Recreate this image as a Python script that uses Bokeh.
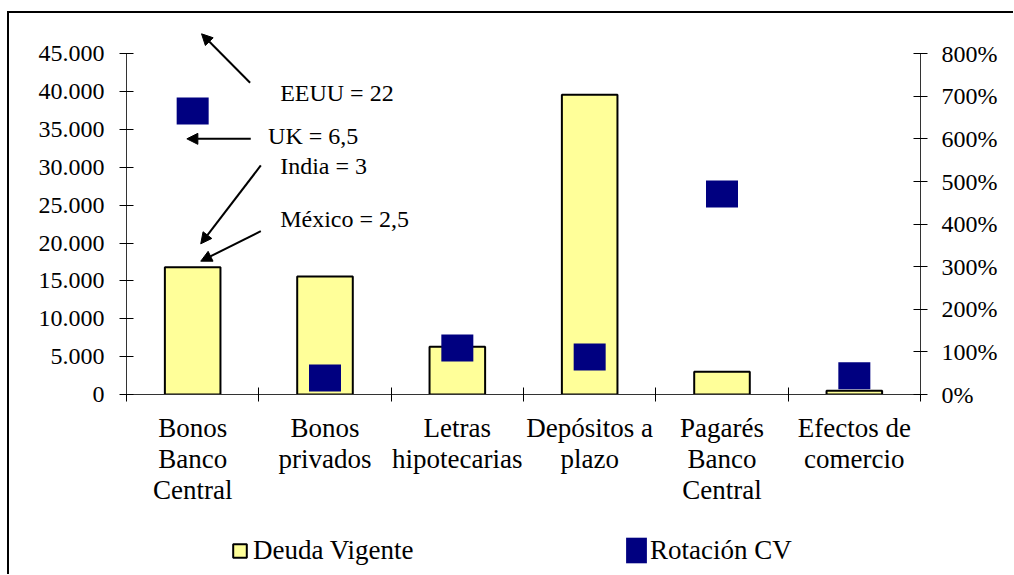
from bokeh.plotting import figure
from bokeh.layouts import column
from bokeh.models import (Range1d, LinearAxis, FixedTicker, Legend, LegendItem,
                          Label, Arrow, NormalHead)
from bokeh.embed import file_html
from bokeh.resources import INLINE

# ---- data ----
categories = ["Bonos\nBanco\nCentral", "Bonos\nprivados", "Letras\nhipotecarias",
              "Depósitos a\nplazo", "Pagarés\nBanco\nCentral", "Efectos de\ncomercio"]
deuda_vigente = [16800, 15600, 6300, 39600, 3000, 500]
rotacion_cv = [666, 39, 109, 88, 471, 44]   # percent
y_ticks = [0, 5000, 10000, 15000, 20000, 25000, 30000, 35000, 40000, 45000]
y_tick_labels = ["0", "5.000", "10.000", "15.000", "20.000", "25.000",
                 "30.000", "35.000", "40.000", "45.000"]
pct_ticks = [0, 100, 200, 300, 400, 500, 600, 700, 800]
pct_tick_labels = ["0%", "100%", "200%", "300%", "400%", "500%", "600%", "700%", "800%"]
notes = ["EEUU = 22", "UK = 6,5", "India = 3", "México = 2,5"]
series_names = ["Deuda Vigente", "Rotación CV"]

FONT = "Liberation Serif"
BAR_FILL, SQ_FILL = "#FFFF99", "#000080"
Y_MAX, PCT_MAX = 45000, 800
Y_TOP = 49400                      # headroom above the axis for the arrow
PCT_TOP = Y_TOP * PCT_MAX / Y_MAX

xs = [i + 0.5 for i in range(len(categories))]

p = figure(width=1004, height=512, output_backend="svg", toolbar_location=None,
           x_range=Range1d(0, len(categories)), y_range=Range1d(0, Y_TOP),
           min_border_left=117, min_border_right=93, min_border_top=7,
           min_border_bottom=131, title=None)
p.extra_y_ranges = {"pct": Range1d(0, PCT_TOP)}
p.xgrid.visible = False
p.ygrid.visible = False
p.outline_line_color = None

# left axis
p.yaxis.ticker = FixedTicker(ticks=y_ticks)
p.yaxis.bounds = (0, Y_MAX)
p.yaxis.major_label_overrides = {t: l for t, l in zip(y_ticks, y_tick_labels)}
p.yaxis.major_tick_in = 7
p.yaxis.major_tick_out = 7
p.yaxis.minor_tick_line_color = None
p.yaxis.major_label_standoff = 15
p.yaxis.major_label_text_font = FONT
p.yaxis.major_label_text_font_size = "24px"
p.yaxis.major_label_text_color = "black"
p.yaxis.axis_line_color = "#333333"
p.yaxis.major_tick_line_color = "black"

# right axis
ra = LinearAxis(y_range_name="pct", ticker=FixedTicker(ticks=pct_ticks), bounds=(0, PCT_MAX))
ra.major_label_overrides = {t: l for t, l in zip(pct_ticks, pct_tick_labels)}
ra.major_tick_in = 7
ra.major_tick_out = 7
ra.minor_tick_line_color = None
ra.major_label_standoff = 14
ra.major_label_text_font = FONT
ra.major_label_text_font_size = "24px"
ra.major_label_text_color = "black"
ra.axis_line_color = "#333333"
p.add_layout(ra, "right")

# x axis: labels at centers, tick marks at category boundaries
p.xaxis.ticker = FixedTicker(ticks=xs, minor_ticks=list(range(len(categories) + 1)))
p.xaxis.major_label_overrides = {x: c for x, c in zip(xs, categories)}
p.xaxis.major_tick_line_color = None
p.xaxis.major_tick_in = 0
p.xaxis.major_tick_out = 0
p.xaxis.minor_tick_in = 7
p.xaxis.minor_tick_out = 7
p.xaxis.minor_tick_line_color = "black"
p.xaxis.major_label_standoff = 11
p.xaxis.major_label_text_font = FONT
p.xaxis.major_label_text_font_size = "27px"
p.xaxis.major_label_text_line_height = 1.04
p.xaxis.major_label_text_color = "black"
p.xaxis.axis_line_color = "#333333"

p.vbar(x=xs, top=deuda_vigente, width=0.42, fill_color=BAR_FILL,
       line_color="black", line_width=2)
p.rect(x=xs, y=rotacion_cv, width=32, height=27, width_units="screen",
       height_units="screen", fill_color=SQ_FILL, line_color=None,
       y_range_name="pct")

# annotations
arrows = [((0.934, 41170), (0.567, 47640)),
          ((0.939, 33770), (0.456, 33770)),
          ((1.015, 30250), (0.561, 19900)),
          ((1.015, 21570), (0.561, 17610))]
for (x0, y0), (x1, y1) in arrows:
    p.add_layout(Arrow(end=NormalHead(size=11, fill_color="black", line_color="black"),
                       x_start=x0, y_start=y0, x_end=x1, y_end=y1,
                       line_width=2, line_color="black"))
label_pos = [(1.161, 39850), (1.070, 34100), (1.161, 30200), (1.161, 23200)]
for txt, (lx, ly) in zip(notes, label_pos):
    p.add_layout(Label(x=lx, y=ly, text=txt, text_font=FONT, text_font_size="24px",
                       text_baseline="middle", text_align="left", text_color="black"))

# legend strip (separate figure below the chart; its series renderers are hidden)
lf = figure(width=1004, height=49, output_backend="svg", toolbar_location=None,
            x_axis_type=None, y_axis_type=None, x_range=Range1d(0, len(categories)),
            y_range=Range1d(0, Y_TOP), min_border=0, min_border_left=0,
            min_border_right=0, min_border_top=0, min_border_bottom=0, title=None)
lf.outline_line_color = None
lf.xgrid.visible = False
lf.ygrid.visible = False
lb = lf.vbar(x=xs, top=deuda_vigente, width=0.42, fill_color=BAR_FILL,
             line_color="black", line_width=2, visible=False)
lr = lf.rect(x=xs, y=rotacion_cv, width=0.2, height=0.2, fill_color=SQ_FILL,
             line_color=None, visible=False)
common = dict(label_text_font=FONT, label_text_font_size="27px", label_height=32,
              label_text_color="black", padding=0, margin=0, spacing=0,
              border_line_color=None, background_fill_alpha=0,
              inactive_fill_alpha=0)
leg1 = Legend(items=[LegendItem(label=series_names[0], renderers=[lb])],
              location=(105, 8), glyph_width=17, glyph_height=17, label_standoff=5,
              **common)
leg2 = Legend(items=[LegendItem(label=series_names[1], renderers=[lr])],
              location=(497, 8), glyph_width=26, glyph_height=32, label_standoff=1,
              **common)
lf.add_layout(leg1, "center")
lf.add_layout(leg2, "center")

layout = column(p, lf, spacing=0,
                styles={"border-left": "2px solid #000", "border-top": "2px solid #000",
                        "margin-top": "11px", "margin-left": "7px"})

open("out.html", "w").write(file_html(layout, INLINE))
